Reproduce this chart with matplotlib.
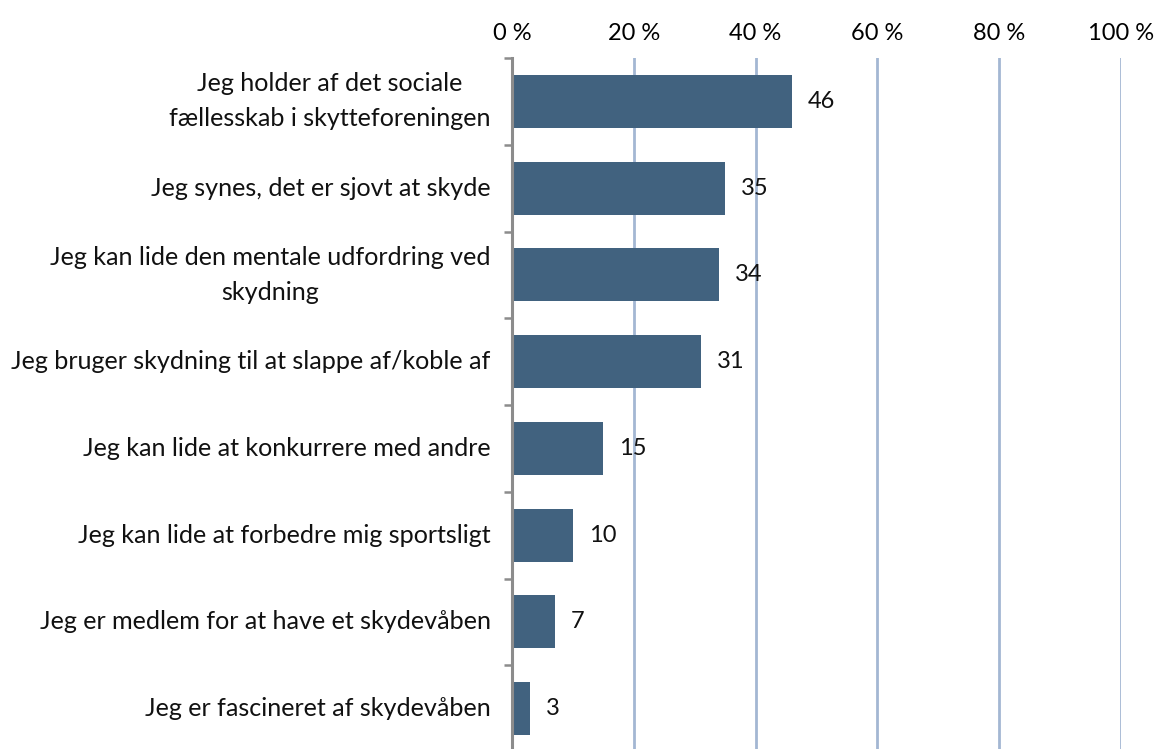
import matplotlib.pyplot as plt

plt.rcParams['font.family'] = ['Lato', 'DejaVu Sans']

# survey answers, top to bottom
categories = [
    "Jeg holder af det sociale\nfællesskab i skytteforeningen",
    "Jeg synes, det er sjovt at skyde",
    "Jeg kan lide den mentale udfordring ved\nskydning",
    "Jeg bruger skydning til at slappe af/koble af",
    "Jeg kan lide at konkurrere med andre",
    "Jeg kan lide at forbedre mig sportsligt",
    "Jeg er medlem for at have et skydevåben",
    "Jeg er fascineret af skydevåben",
]
values = [46, 35, 34, 31, 15, 10, 7, 3]
x_ticks = [0, 20, 40, 60, 80, 100]
x_tick_labels = ["0 %", "20 %", "40 %", "60 %", "80 %", "100 %"]

bar_color = "#41627f"
grid_color = "#a3b7d3"
axis_color = "#8c8c8c"

fig = plt.figure(figsize=(11.57, 7.49), dpi=100)
ax = fig.add_axes([512 / 1157, -3 / 749, 609 / 1157, 694 / 749])

pos = list(range(len(categories)))
ax.barh(pos, values, height=0.61, color=bar_color, zorder=3)

for p, v in zip(pos, values):
    ax.text(v + 2.6, p, str(v), va="center", ha="left", fontsize=17, color="#111111")

ax.set_xlim(0, 100)
ax.set_ylim(len(categories) - 0.5, -0.5)

ax.xaxis.tick_top()
ax.set_xticks(x_ticks)
ax.set_xticklabels(x_tick_labels, fontsize=17)
ax.tick_params(axis="x", length=0, pad=10)
ax.grid(axis="x", color=grid_color, linewidth=2, zorder=0)

# category labels placed manually, tick marks sit on the boundaries
ax.set_yticks([p - 0.5 for p in pos] + [len(pos) - 0.5])
ax.set_yticklabels([])
ax.tick_params(axis="y", length=6, width=1.8, color=axis_color, direction="out")
for p, c in zip(pos, categories):
    ax.text(-0.035, p, c, transform=ax.get_yaxis_transform(), ha="right", va="center",
            multialignment="center", fontsize=18.1, color="#111111", linespacing=1.62)

for s in ["top", "right", "bottom"]:
    ax.spines[s].set_visible(False)
ax.spines["left"].set_color(axis_color)
ax.spines["left"].set_linewidth(2.2)
ax.spines["left"].set_zorder(4)

fig.savefig("out.png", dpi=100)
